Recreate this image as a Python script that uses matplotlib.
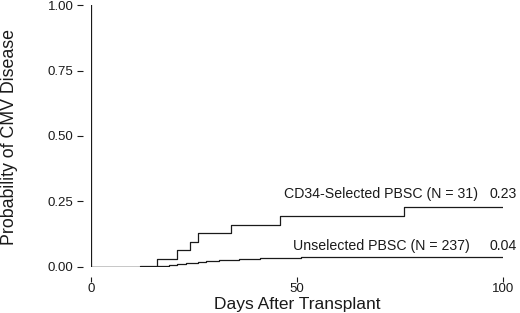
import matplotlib
matplotlib.use("Agg")
import matplotlib.pyplot as plt

plt.rcParams['font.family'] = ['Liberation Sans', 'DejaVu Sans']

# Step-curve data (day of event, cumulative probability after the step)
cd34_days = [0, 16, 21, 24, 26, 34, 46, 76, 100]
cd34_prob = [0.0, 0.032, 0.065, 0.097, 0.129, 0.161, 0.194, 0.23, 0.23]

unsel_days = [0, 12, 19, 21, 23, 26, 28, 31, 36, 41, 51, 100]
unsel_prob = [0.0, 0.004, 0.008, 0.012, 0.016, 0.020, 0.023, 0.026, 0.030, 0.034, 0.04, 0.04]

cd34_label = "CD34-Selected PBSC (N = 31)"
unsel_label = "Unselected PBSC (N = 237)"
cd34_final = "0.23"
unsel_final = "0.04"

xticks = [0, 50, 100]
yticks = [0.0, 0.25, 0.5, 0.75, 1.0]

fig = plt.figure(figsize=(5.2, 3.13), dpi=100)
ax = fig.add_axes([0.175, 0.147, 0.792, 0.837])

ink = '#1a1a1a'
ax.step(cd34_days, cd34_prob, where='post', color=ink, lw=0.9)
ax.step(unsel_days, unsel_prob, where='post', color=ink, lw=0.9)
ax.axvline(0, color=ink, lw=0.9)

ax.set_xlim(0, 100)
ax.set_ylim(0, 1)

for s in ['top', 'right']:
    ax.spines[s].set_visible(False)
ax.spines['left'].set_position(('outward', 6))
ax.spines['bottom'].set_position(('outward', 7))
ax.spines['left'].set_visible(False)
ax.spines['bottom'].set_visible(False)

ax.set_xticks(xticks)
ax.set_xticklabels([str(t) for t in xticks])
ax.set_yticks(yticks)
ax.set_yticklabels([f"{t:.2f}" for t in yticks])
ax.tick_params(axis='y', length=4.5, width=0.8, color=ink,
               labelsize=9.5, labelcolor=ink, pad=2)
ax.tick_params(axis='x', length=3.8, width=0.8, color=ink,
               labelsize=9.5, labelcolor=ink, pad=1)

ax.set_xlabel("Days After Transplant", fontsize=12.5, color=ink)
ax.set_ylabel("Probability of CMV Disease", fontsize=12.8, color=ink)
ax.xaxis.set_label_coords(0.501, -0.114)
ax.yaxis.set_label_coords(-0.178, 0.496)

ax.text(94, cd34_prob[-1] + 0.05, cd34_label, ha='right', va='center',
        fontsize=10.2, color=ink, clip_on=False)
ax.text(100, cd34_prob[-1] + 0.05, cd34_final, ha='center', va='center',
        fontsize=10.2, color=ink, clip_on=False)
ax.text(92, unsel_prob[-1] + 0.04, unsel_label, ha='right', va='center',
        fontsize=10.2, color=ink, clip_on=False)
ax.text(100, unsel_prob[-1] + 0.04, unsel_final, ha='center', va='center',
        fontsize=10.2, color=ink, clip_on=False)

fig.savefig("out.png", dpi=100)
